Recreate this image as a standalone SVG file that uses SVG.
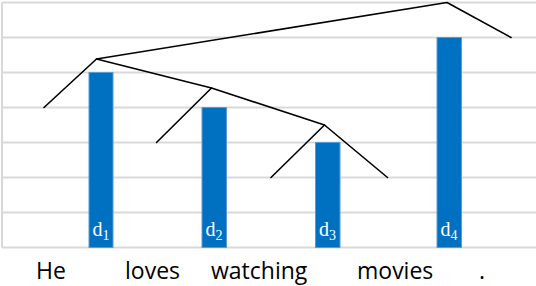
<svg xmlns="http://www.w3.org/2000/svg" width="536" height="286" viewBox="0 0 536 286">
<style>
.grid{stroke:#d9d9d9;stroke-width:2;fill:none}
.bar{fill:#0070c0;stroke:#5b9bd5;stroke-width:1}
.lbl{font-family:"Liberation Serif","DejaVu Serif",serif;font-size:20px;fill:#ffffff}
.sub{font-size:14px}
.word{font-family:"Open Sans","Noto Sans",sans-serif;font-size:23px;fill:#000000}
.edge{stroke:#000000;stroke-width:1.6;fill:none;stroke-linejoin:round;stroke-linecap:round}
</style>
<rect width="536" height="286" fill="#ffffff"/>
<g id="grid">
<path class="grid" d="M2 2.5H536M2 37.5H536M2 72.5H536M2 107.5H536M2 142.5H536M2 177.5H536M2 212.5H536M2 247.5H536M2 2.5V247.5"/>
</g>
<g id="bar-d1"><rect class="bar" x="89" y="72.5" width="24" height="175"/><text class="lbl" x="101" y="236" text-anchor="middle">d<tspan class="sub" dy="3.5">1</tspan></text></g>
<g id="bar-d2"><rect class="bar" x="202" y="107.5" width="24.5" height="140"/><text class="lbl" x="214" y="236" text-anchor="middle">d<tspan class="sub" dy="3.5">2</tspan></text></g>
<g id="bar-d3"><rect class="bar" x="315.5" y="142.5" width="24.5" height="105"/><text class="lbl" x="327.5" y="236" text-anchor="middle">d<tspan class="sub" dy="3.5">3</tspan></text></g>
<g id="bar-d4"><rect class="bar" x="437" y="37.5" width="24.5" height="210"/><text class="lbl" x="449" y="236" text-anchor="middle">d<tspan class="sub" dy="3.5">4</tspan></text></g>
<g id="connectors">
<polyline class="edge" points="511,37.5 447,2.5 96.5,59 44,107.5"/>
<polyline class="edge" points="96.5,59 211.5,88 324.5,125 387.5,177.5"/>
<line class="edge" x1="211.5" y1="88" x2="156.5" y2="142.5"/>
<line class="edge" x1="324.5" y1="125" x2="271" y2="177.5"/>
</g>
<g id="word-He"><text class="word" x="36" y="279">He</text></g>
<g id="word-loves"><text class="word" x="125" y="279">loves</text></g>
<g id="word-watching"><text class="word" x="211" y="279">watching</text></g>
<g id="word-movies"><text class="word" x="357" y="279">movies</text></g>
<g id="word-period"><text class="word" x="479" y="279">.</text></g>
</svg>
